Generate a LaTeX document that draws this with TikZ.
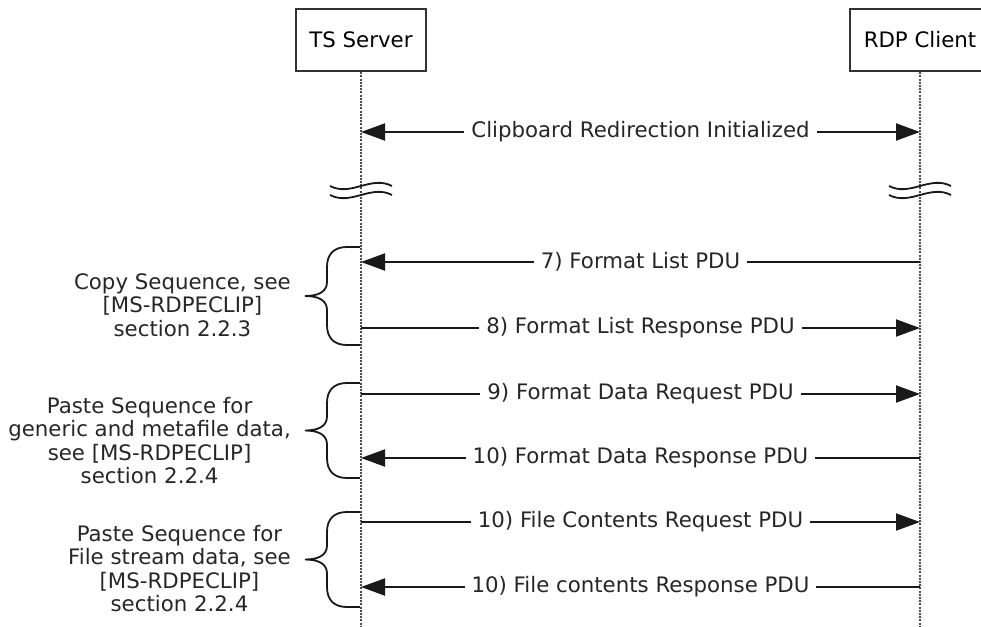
\documentclass[tikz,border=0pt]{standalone}
\usepackage{fontspec}
\setmainfont{DejaVu Sans}
\usepackage{tikz}
\usetikzlibrary{positioning}
\usetikzlibrary{arrows.meta}

\tikzset{
  actor/.style={draw=black!80,line width=2.2pt,minimum width=130pt,minimum height=62pt,inner sep=0pt},
  lifeline/.style={draw=black!70,line width=2.6pt,dash pattern=on 2pt off 1.2pt},
  msg/.style={draw=black!90,line width=2pt},
  tosrv/.style={{Triangle[length=24pt,width=17pt]}-},
  tocli/.style={-{Triangle[length=24pt,width=17pt]}},
  twoway/.style={{Triangle[length=24pt,width=17pt]}-{Triangle[length=24pt,width=17pt]}},
  lbl/.style={fill=white,inner xsep=7pt,inner ysep=1pt,text=black!85},
  note/.style={align=center,text=black!85,inner sep=0pt},
  bracket/.style={draw=black!90,line width=1.8pt},
  brk/.style={draw=black!90,line width=1.8pt},
}

% curly bracket on the server lifeline: name, top, bottom
\newcommand{\seqbrace}[3]{%
  \pgfmathsetmacro{\bm}{(#2+#3)/2}
  \coordinate (#1) at (305,\bm);
  \draw[bracket] (360,#2) -- (347,#2)
    .. controls (334,#2) and (327,#2+7) .. (327,#2+20)
    -- (327,\bm-14)
    .. controls (327,\bm-4) and (318,\bm) .. (305,\bm)
    .. controls (318,\bm) and (327,\bm+4) .. (327,\bm+14)
    -- (327,#3-20)
    .. controls (327,#3-7) and (334,#3) .. (347,#3) -- (360,#3);
}

\begin{document}
\begin{tikzpicture}[x=1pt,y=-1pt,every node/.style={font=\fontsize{21.3}{23.5}\selectfont}]
\useasboundingbox (0,0) rectangle (981,626);

% actors and lifelines
\node[actor] (srv) at (361,40) {TS Server};
\node[actor,minimum width=140pt] (cli) at (920,40) {RDP Client};
\coordinate (srvend) at (361,626);
\coordinate (cliend) at (920,626);
\draw[lifeline] (srv) -- (srvend);
\draw[lifeline] (cli) -- (cliend);

% time break marks
\foreach \x in {361,920}
  \foreach \y in {186,195}
    \draw[brk] (\x-31,\y) .. controls (\x-10,\y+11) and (\x+10,\y-11) .. (\x+31,\y);

% message end points
\foreach \n/\y in {init/132,m7/262,m8/328,m9/394,m10/458,m11/522,m12/587} {
  \coordinate (s-\n) at (361,\y);
  \coordinate (c-\n) at (920,\y);
}

% messages
\draw[msg,twoway] (s-init) -- node[lbl] (l-init) {Clipboard Redirection Initialized} (c-init);
\draw[msg,tosrv] (s-m7) -- node[lbl] (l-m7) {7) Format List PDU} (c-m7);
\draw[msg,tocli] (s-m8) -- node[lbl] (l-m8) {8) Format List Response PDU} (c-m8);
\draw[msg,tocli] (s-m9) -- node[lbl] (l-m9) {9) Format Data Request PDU} (c-m9);
\draw[msg,tosrv] (s-m10) -- node[lbl] (l-m10) {10) Format Data Response PDU} (c-m10);
\draw[msg,tocli] (s-m11) -- node[lbl] (l-m11) {10) File Contents Request PDU} (c-m11);
\draw[msg,tosrv] (s-m12) -- node[lbl] (l-m12) {10) File contents Response PDU} (c-m12);

% sequences
\seqbrace{copy}{247}{345}
\seqbrace{paste}{383}{478}
\seqbrace{file}{512}{607}
\node[note,left=14pt of copy,yshift=-9pt] (t-copy) {Copy Sequence, see\\{[MS-RDPECLIP]}\\section 2.2.3};
\node[note,left=14pt of paste,yshift=-10pt] (t-paste) {Paste Sequence for\\generic and metafile data,\\see [MS-RDPECLIP]\\section 2.2.4};
\node[note,left=14pt of file,yshift=-9pt] (t-file) {Paste Sequence for\\File stream data, see\\{[MS-RDPECLIP]}\\section 2.2.4};
\end{tikzpicture}
\end{document}
